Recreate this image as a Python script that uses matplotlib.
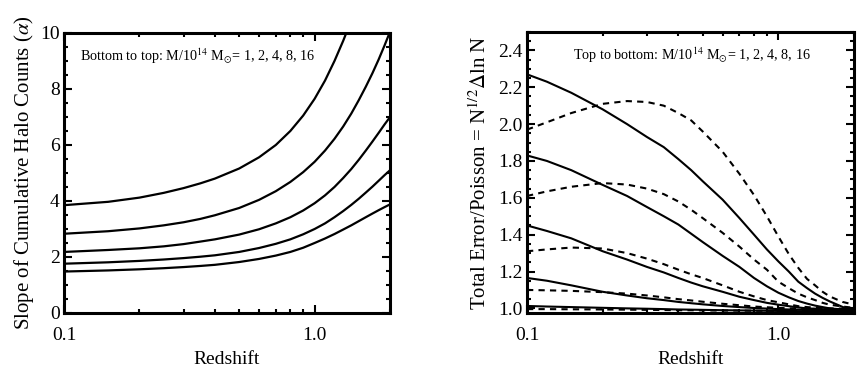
import matplotlib
matplotlib.use("Agg")
import matplotlib.pyplot as plt
from matplotlib.ticker import MultipleLocator, FixedLocator, NullFormatter, FixedFormatter

plt.rcParams['font.family'] = ['Liberation Serif', 'DejaVu Serif']
plt.rcParams['mathtext.fontset'] = 'stix'

# left panel: slope of cumulative halo counts, bottom to top M/1e14 = 1, 2, 4, 8, 16
z_slope = [0.1, 0.15, 0.2, 0.25, 0.3, 0.35, 0.4, 0.5, 0.6, 0.7, 0.8, 0.9, 1.0,
           1.1, 1.2, 1.3, 1.4, 1.5, 1.6, 1.7, 1.8, 1.9, 2.0]
slope_m1 = [1.48, 1.52, 1.56, 1.60, 1.64, 1.68, 1.72, 1.82, 1.93, 2.05, 2.18, 2.33, 2.50,
            2.66, 2.82, 2.98, 3.13, 3.28, 3.42, 3.55, 3.67, 3.78, 3.88]
slope_m2 = [1.76, 1.81, 1.86, 1.91, 1.96, 2.01, 2.06, 2.18, 2.32, 2.47, 2.63, 2.81, 3.00,
            3.20, 3.42, 3.64, 3.86, 4.08, 4.30, 4.51, 4.72, 4.92, 5.10]
slope_m4 = [2.18, 2.25, 2.31, 2.38, 2.46, 2.55, 2.63, 2.80, 2.99, 3.20, 3.42, 3.66, 3.92,
            4.20, 4.50, 4.82, 5.14, 5.47, 5.80, 6.12, 6.43, 6.73, 7.00]
slope_m8 = [2.83, 2.92, 3.02, 3.13, 3.24, 3.36, 3.49, 3.75, 4.04, 4.35, 4.68, 5.03, 5.40,
            5.80, 6.22, 6.66, 7.12, 7.60, 8.08, 8.56, 9.05, 9.55, 10.05]
z_top = [0.1, 0.15, 0.2, 0.25, 0.3, 0.35, 0.4, 0.5, 0.6, 0.7, 0.8, 0.9, 1.0, 1.1, 1.2, 1.3, 1.4]
slope_m16 = [3.85, 3.97, 4.12, 4.29, 4.46, 4.63, 4.80, 5.16, 5.56, 6.00, 6.50, 7.05, 7.65,
             8.30, 9.00, 9.72, 10.45]

# right panel: total error / poisson, top to bottom M/1e14 = 1, 2, 4, 8, 16
z_err = [0.1, 0.12, 0.15, 0.2, 0.25, 0.3, 0.35, 0.4, 0.45, 0.5, 0.6, 0.7, 0.8, 0.9, 1.0,
         1.1, 1.2, 1.3, 1.4, 1.5, 1.6, 1.8, 2.0]
solid_m1 = [2.27, 2.23, 2.17, 2.08, 2.00, 1.93, 1.875, 1.81, 1.75, 1.69, 1.59, 1.49, 1.40, 1.32, 1.255,
            1.20, 1.145, 1.11, 1.08, 1.057, 1.038, 1.008, 0.985]
solid_m2 = [1.83, 1.80, 1.75, 1.67, 1.61, 1.55, 1.50, 1.455, 1.405, 1.36, 1.285, 1.225, 1.165, 1.12, 1.085,
            1.06, 1.04, 1.026, 1.015, 1.007, 1.0, 0.994, 0.99]
solid_m4 = [1.45, 1.42, 1.38, 1.31, 1.265, 1.225, 1.195, 1.165, 1.14, 1.12, 1.09, 1.063, 1.045, 1.03, 1.02,
            1.012, 1.005, 1.0, 0.998, 0.996, 0.995, 0.994, 0.993]
solid_m8 = [1.165, 1.15, 1.125, 1.09, 1.07, 1.055, 1.045, 1.035, 1.028, 1.022, 1.013, 1.007, 1.002, 0.999, 0.996,
            0.994, 0.993, 0.992, 0.991, 0.99, 0.99, 0.989, 0.988]
solid_m16 = [1.013, 1.01, 1.007, 1.003, 1.0, 0.998, 0.996, 0.994, 0.993, 0.992, 0.99, 0.989, 0.988, 0.987, 0.986,
             0.986, 0.985, 0.985, 0.984, 0.984, 0.984, 0.983, 0.983]
dash_m1 = [1.97, 2.01, 2.06, 2.11, 2.125, 2.12, 2.10, 2.06, 2.02, 1.96, 1.85, 1.73, 1.615, 1.50, 1.39,
           1.295, 1.22, 1.16, 1.125, 1.09, 1.065, 1.035, 1.02]
dash_m2 = [1.61, 1.635, 1.66, 1.68, 1.672, 1.65, 1.62, 1.58, 1.535, 1.49, 1.41, 1.335, 1.265, 1.21, 1.145,
           1.11, 1.08, 1.06, 1.045, 1.03, 1.02, 1.01, 1.003]
dash_m4 = [1.31, 1.32, 1.33, 1.325, 1.30, 1.27, 1.24, 1.21, 1.185, 1.165, 1.125, 1.09, 1.065, 1.045, 1.033,
           1.022, 1.012, 1.007, 1.004, 1.002, 1.0, 0.999, 0.998]
dash_m8 = [1.10, 1.098, 1.095, 1.088, 1.08, 1.07, 1.06, 1.05, 1.043, 1.036, 1.025, 1.017, 1.01, 1.006, 1.003,
           1.0, 0.999, 0.998, 0.997, 0.996, 0.995, 0.994, 0.993]
dash_m16 = [0.996, 0.996, 0.995, 0.994, 0.993, 0.992, 0.991, 0.99, 0.99, 0.989, 0.988, 0.988, 0.987, 0.987, 0.986,
            0.986, 0.986, 0.985, 0.985, 0.985, 0.985, 0.984, 0.984]

fig = plt.figure(figsize=(8.63, 3.73), dpi=100)
ax1 = fig.add_axes([0.0742, 0.1609, 0.3778, 0.7507])
ax2 = fig.add_axes([0.6107, 0.1609, 0.3789, 0.7534])


def style_axis(ax):
    ax.set_xscale('log')
    ax.set_xlim(0.1, 2.0)
    ax.xaxis.set_major_locator(FixedLocator([0.1, 1.0]))
    ax.xaxis.set_major_formatter(FixedFormatter(['0.1', '1.0']))
    ax.xaxis.set_minor_locator(FixedLocator([0.2, 0.3, 0.4, 0.5, 0.6, 0.7, 0.8, 0.9, 2.0]))
    ax.xaxis.set_minor_formatter(NullFormatter())
    for s in ax.spines.values():
        s.set_linewidth(2.2)
    ax.tick_params(which='both', direction='in', top=True, right=True, labelsize=14, width=1.5)
    ax.tick_params(axis='x', which='both', pad=10)
    ax.tick_params(axis='y', which='both', pad=3)
    ax.tick_params(which='major', length=6)
    ax.tick_params(which='minor', length=3)
    ax.set_xlabel('Redshift', fontsize=14, labelpad=5)


for ys in [slope_m1, slope_m2, slope_m4, slope_m8]:
    ax1.plot(z_slope, ys, color='black', lw=1.6)
ax1.plot(z_top, slope_m16, color='black', lw=1.6)
style_axis(ax1)
ax1.set_ylim(0, 10)
ax1.yaxis.set_major_locator(MultipleLocator(2))
ax1.yaxis.set_minor_locator(MultipleLocator(0.5))
ax1.set_ylabel(r'Slope of Cumulative Halo Counts ($\alpha$)', fontsize=15, labelpad=3)
ax1.text(0.05, 0.9, r'Bottom to top: M/10$^{14}$ M$_{\odot}$= 1, 2, 4, 8, 16',
         transform=ax1.transAxes, fontsize=10.2)

for ys in [solid_m1, solid_m2, solid_m4, solid_m8, solid_m16]:
    ax2.plot(z_err, ys, color='black', lw=1.5)
for ys in [dash_m1, dash_m2, dash_m4, dash_m8, dash_m16]:
    ax2.plot(z_err, ys, color='black', lw=1.5, ls=(0, (3, 2.5)))
style_axis(ax2)
ax2.set_ylim(0.975, 2.5)
ax2.yaxis.set_major_locator(MultipleLocator(0.2))
ax2.yaxis.set_minor_locator(MultipleLocator(0.05))
ax2.set_ylabel(r'Total Error/Poisson = N$^{1/2}$$\Delta$ln N', fontsize=15, labelpad=5)
ax2.text(0.14, 0.9, r'Top to bottom: M/10$^{14}$ M$_{\odot}$= 1, 2, 4, 8, 16',
         transform=ax2.transAxes, fontsize=10.2)

fig.savefig('out.png', dpi=100)
